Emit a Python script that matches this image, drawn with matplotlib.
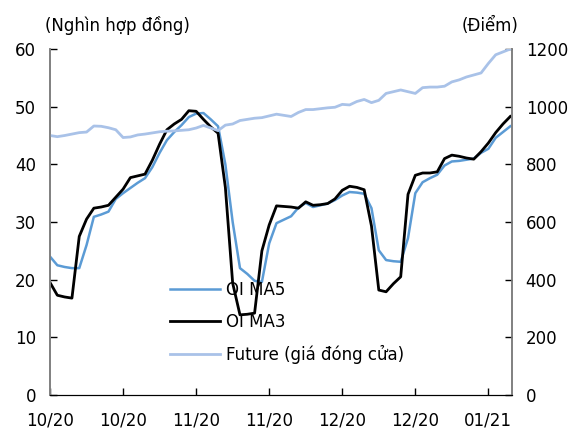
import numpy as np
import matplotlib
matplotlib.use("Agg")
import matplotlib.pyplot as plt

plt.rcParams['font.family'] = ['DejaVu Sans']

tick_labels = ["10/20", "10/20", "11/20", "11/20", "12/20", "12/20", "01/21"]

oi_ma5 = [24.0, 22.5, 22.2, 22.0, 22.0, 26.0, 30.9, 31.3, 31.8, 34.0,
          35.0, 35.9, 36.8, 37.6, 39.5, 42.0, 44.2, 45.6, 46.8, 48.2,
          48.8, 48.9, 47.8, 46.6, 40.0, 30.0, 22.0, 21.0, 19.8, 19.6,
          26.3, 29.8, 30.4, 31.0, 32.5, 33.3, 32.6, 32.9, 33.2, 33.8,
          34.6, 35.2, 35.1, 34.9, 32.4, 25.1, 23.4, 23.2, 23.1, 27.2,
          35.0, 36.9, 37.6, 38.2, 39.8, 40.5, 40.6, 40.8, 41.0, 42.0,
          42.7, 44.6, 45.6, 46.6]

oi_ma3 = [19.5, 17.3, 17.0, 16.8, 27.5, 30.5, 32.4, 32.6, 32.9, 34.3,
          35.7, 37.7, 38.0, 38.3, 40.7, 43.5, 46.0, 47.0, 47.8, 49.3,
          49.2, 47.8, 46.5, 45.4, 36.0, 19.4, 13.9, 14.0, 14.2, 25.0,
          29.5, 32.8, 32.7, 32.6, 32.4, 33.5, 32.9, 33.0, 33.2, 34.0,
          35.5, 36.2, 36.0, 35.6, 29.3, 18.2, 17.9, 19.3, 20.5, 34.8,
          38.1, 38.5, 38.5, 38.7, 41.0, 41.6, 41.4, 41.1, 40.9, 42.2,
          43.7, 45.5, 47.0, 48.3]

future = [900, 896, 900, 905, 910, 912, 933, 932, 927, 920,
          893, 895, 902, 905, 909, 913, 915, 916, 918, 920,
          926, 935, 926, 917, 936, 940, 952, 956, 960, 962,
          968, 974, 970, 966, 980, 990, 990, 993, 996, 998,
          1008, 1006, 1018, 1025, 1014, 1022, 1046, 1052, 1058, 1052,
          1046, 1066, 1068, 1068, 1071, 1086, 1093, 1103, 1110, 1117,
          1150, 1180, 1190, 1200]

x = np.arange(len(oi_ma5))

fig = plt.figure(figsize=(5.75, 4.3), dpi=100)
ax = fig.add_axes([0.087, 0.0814, 0.803, 0.8046])
ax2 = ax.twinx()

c_ma5 = "#5B9BD5"
c_fut = "#A9C2E8"

l1, = ax.plot(x, oi_ma5, color=c_ma5, lw=1.8, label="OI MA5")
l2, = ax.plot(x, oi_ma3, color="black", lw=2.0, label="OI MA3")
l3, = ax2.plot(x, future, color=c_fut, lw=2.0, label="Future (giá đóng cửa)")

ax.set_xlim(0, 63.2)
ax.set_ylim(0, 60)
ax.set_yticks(range(0, 61, 10))
ax2.set_ylim(0, 1200)
ax2.set_yticks(range(0, 1201, 200))
ax.set_xticks(range(0, 61, 10))
ax.set_xticklabels(tick_labels)

for a in (ax, ax2):
    a.spines['top'].set_visible(False)
    a.spines['left'].set_color("#808080")
    a.spines['right'].set_color("#808080")
    a.spines['bottom'].set_color("black")
    a.spines['left'].set_linewidth(1.2)
    a.spines['right'].set_linewidth(1.2)
    a.tick_params(direction='in', length=5, labelsize=12, width=1)
ax.tick_params(axis='y', pad=10)
ax2.tick_params(axis='y', pad=10)
ax.tick_params(axis='x', pad=12)

# nhãn trục
fig.text(0.078, 0.94, "(Nghìn hợp đồng)", fontsize=12, ha='left', va='center')
fig.text(0.902, 0.94, "(Điểm)", fontsize=12, ha='right', va='center')

ax2.legend(handles=[l1, l2, l3], loc='upper left', bbox_to_anchor=(0.245, 0.35),
           frameon=False, fontsize=12, handlelength=3.0, handletextpad=0.35,
           labelspacing=0.85, borderaxespad=0)

fig.savefig("out.png", dpi=100)
